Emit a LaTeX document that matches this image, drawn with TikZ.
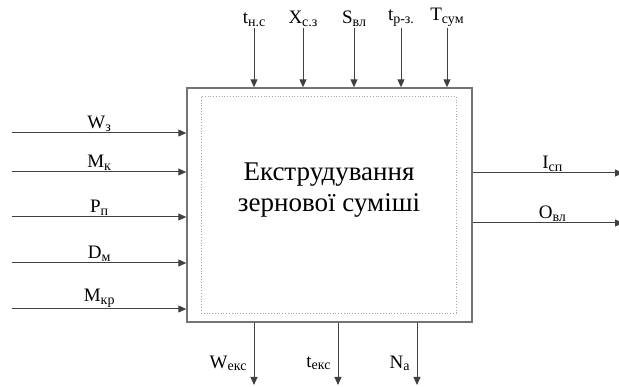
\documentclass[tikz,border=0pt]{standalone}
\usepackage{fontspec}
\setmainfont{Liberation Serif}
\usetikzlibrary{arrows.meta}

\begin{document}
\begin{tikzpicture}[x=1pt,y=-1pt]
	% Styles (MODIFIABLES)
	\tikzstyle{fleche}=[-{Triangle[length=8pt,width=7pt]},line width=1pt,draw=black!75]
	\tikzstyle{bloc}=[draw=black!55,line width=1.4pt,minimum width=285pt,minimum height=234pt,inner sep=0pt]
	\tikzstyle{cadre}=[draw=black!35,dotted,line width=0.8pt,minimum width=255pt,minimum height=217pt,inner sep=0pt]
	\tikzstyle{etiquette}=[inner sep=1pt,font=\fontsize{19}{19}\selectfont]
	\tikzstyle{titre}=[align=center,font=\fontsize{27}{31}\selectfont]
	% Dimensions (MODIFIABLES)
	\def\EntreeGauche{12}
	\def\SortieDroite{623}
	\def\HautFleches{28}
	\def\BasFleches{385}
	\def\Ind#1#2{#1\raisebox{-0.3ex}{\fontsize{14}{14}\selectfont #2}}
	\useasboundingbox (0,0) rectangle (619,387);
	% Noeuds
	\node[bloc] (B) at (329.5,205) {};
	\node[cadre] (C) at (328.5,204.5) {};
	\node[titre] (T) at (329,190) {Екструдування\\зернової суміші};
	%
	\coordinate (h1) at (254,\HautFleches);
	\coordinate (h2) at (303,\HautFleches);
	\coordinate (h3) at (354,\HautFleches);
	\coordinate (h4) at (401,\HautFleches);
	\coordinate (h5) at (447,\HautFleches);
	\coordinate (g1) at (\EntreeGauche,133);
	\coordinate (g2) at (\EntreeGauche,172);
	\coordinate (g3) at (\EntreeGauche,217);
	\coordinate (g4) at (\EntreeGauche,263);
	\coordinate (g5) at (\EntreeGauche,309);
	\coordinate (d1) at (\SortieDroite,173);
	\coordinate (d2) at (\SortieDroite,223);
	\coordinate (b1) at (254,\BasFleches);
	\coordinate (b2) at (338,\BasFleches);
	\coordinate (b3) at (417,\BasFleches);
	% Arcs (MODIFIABLES : Styles)
	\draw[fleche] (h1)--(h1 |- B.north) node[at start, above, etiquette] (lh1) {\Ind{t}{н.с}};
	\draw[fleche] (h2)--(h2 |- B.north) node[at start, above, etiquette] (lh2) {\Ind{Х}{с.з}};
	\draw[fleche] (h3)--(h3 |- B.north) node[at start, above, etiquette] (lh3) {\Ind{S}{вл}};
	\draw[fleche] (h4)--(h4 |- B.north) node[at start, above, etiquette] (lh4) {\Ind{t}{р-з.}};
	\draw[fleche] (h5)--(h5 |- B.north) node[at start, above, etiquette] (lh5) {\Ind{Т}{сум}};
	%
	\draw[fleche] (g1)--(g1 -| B.west) node[midway, above, etiquette] (lg1) {\Ind{W}{з}};
	\draw[fleche] (g2)--(g2 -| B.west) node[midway, above, etiquette] (lg2) {\Ind{М}{к}};
	\draw[fleche] (g3)--(g3 -| B.west) node[midway, above, etiquette] (lg3) {\Ind{Р}{п}};
	\draw[fleche] (g4)--(g4 -| B.west) node[midway, above, etiquette] (lg4) {\Ind{D}{м}};
	\draw[fleche] (g5)--(g5 -| B.west) node[midway, above, etiquette] (lg5) {\Ind{М}{кр}};
	%
	\draw[fleche] (d1 -| B.east)--(d1) node[pos=0.53, above, etiquette] (ld1) {\Ind{I}{сп}};
	\draw[fleche] (d2 -| B.east)--(d2) node[pos=0.53, above, etiquette] (ld2) {\Ind{О}{вл}};
	%
	\draw[fleche] (b1 |- B.south)--(b1) node[pos=0.65, left=6pt, etiquette] (lb1) {\Ind{W}{екс}};
	\draw[fleche] (b2 |- B.south)--(b2) node[pos=0.65, left=6pt, etiquette] (lb2) {\Ind{t}{екс}};
	\draw[fleche] (b3 |- B.south)--(b3) node[pos=0.65, left=6pt, etiquette] (lb3) {\Ind{N}{а}};
\end{tikzpicture}
\end{document}
